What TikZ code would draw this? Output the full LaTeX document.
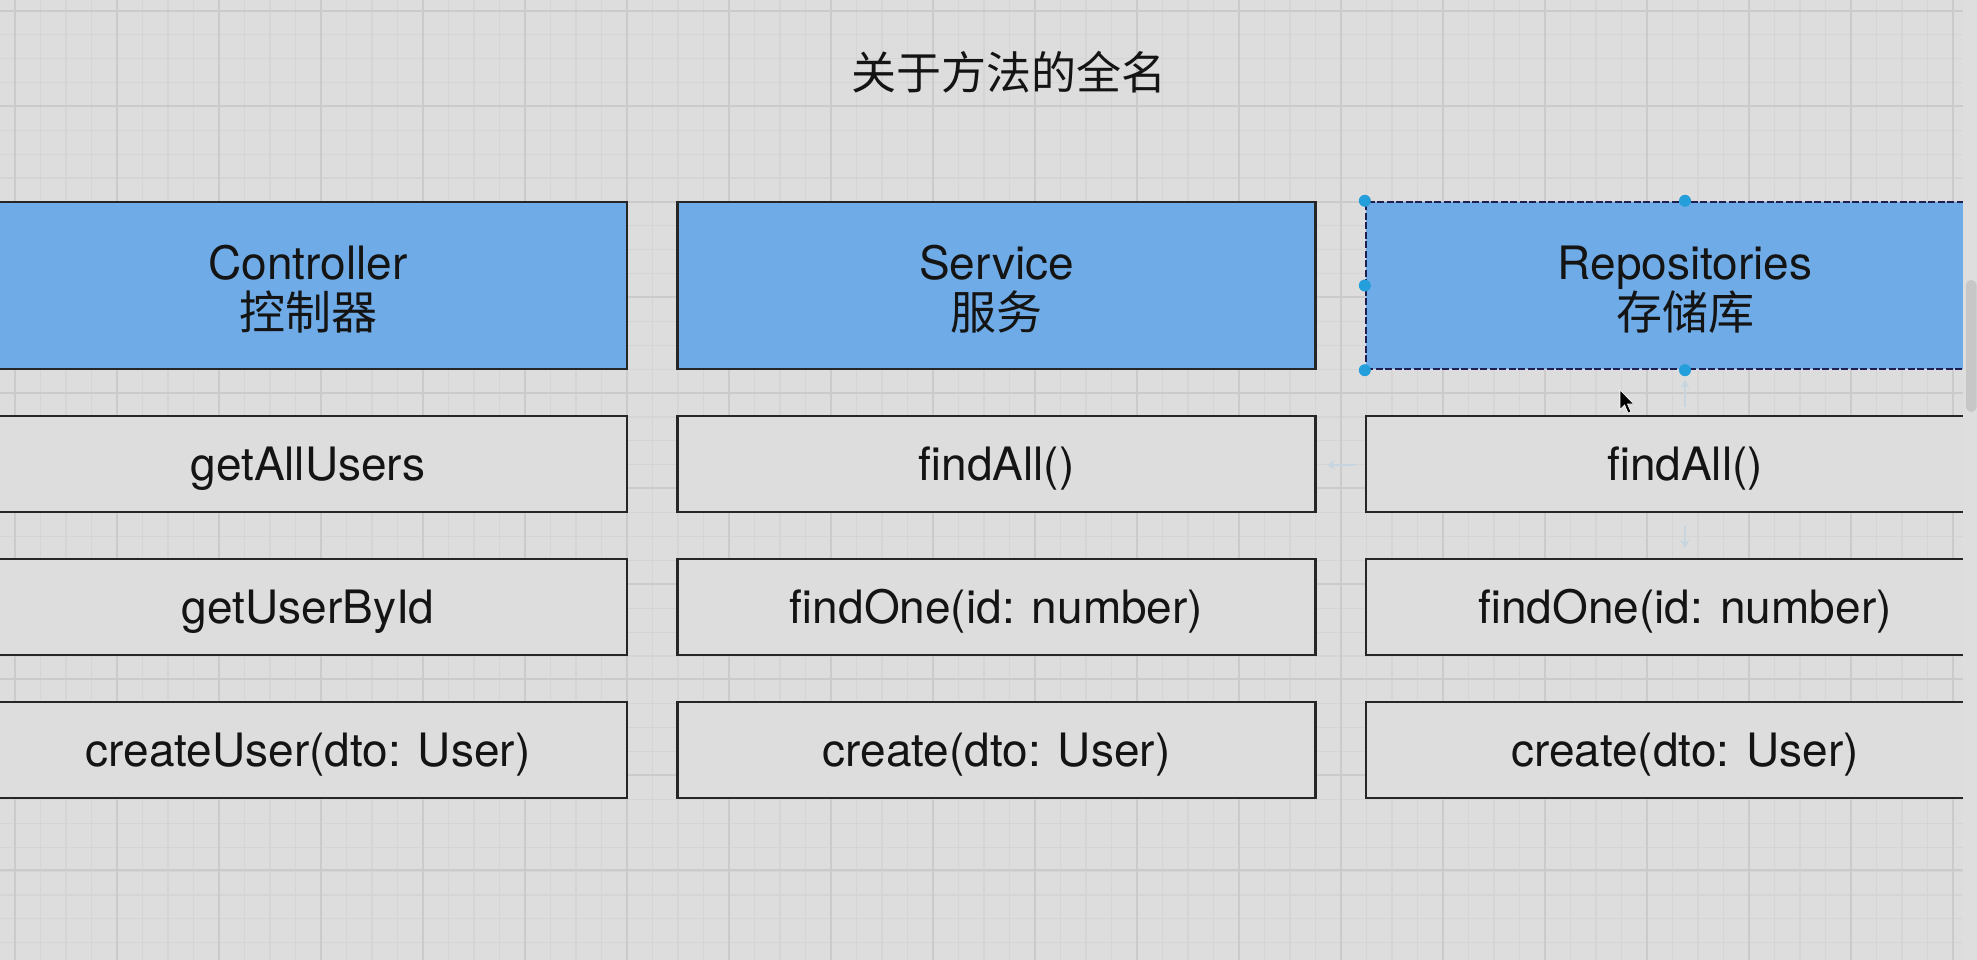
\documentclass[tikz,border=0pt]{standalone}
\usepackage{fontspec}
\setmainfont{TeX Gyre Heros}
\newfontfamily\cjk{Noto Sans CJK SC}
\usetikzlibrary{arrows.meta}
\definecolor{bg}{HTML}{DDDDDD}
\definecolor{gridminor}{HTML}{D5D5D5}
\definecolor{gridmajor}{HTML}{CBCBCB}
\definecolor{hdrblue}{HTML}{6FABE6}
\definecolor{edge}{HTML}{262626}
\definecolor{handle}{HTML}{249FDB}
\definecolor{hint}{HTML}{C6D5DF}
\tikzset{
  box/.style={rectangle, draw=edge, line width=2.7pt, minimum width=638pt,
    inner sep=0pt, text=black!92, font=\fontsize{46}{50}\selectfont},
  hdrbox/.style={box, fill=hdrblue, minimum height=167pt},
  hdrtext/.style={inner sep=0pt, align=center, text=black!92, font=\fontsize{46}{50}\selectfont},
  rowbox/.style={box, fill=bg, minimum height=96pt, text height=33pt, text depth=0pt},
  selbox/.style={rectangle, draw=edge!80!blue, line width=2.4pt, dash pattern=on 7pt off 2.5pt,
    minimum width=638pt, minimum height=167pt, inner sep=0pt},
  grab/.style={circle, fill=handle, minimum size=12pt, inner sep=0pt},
  hintarrow/.style={draw=hint, line width=2.2pt, -{Stealth[length=8pt,width=9pt]}}
}
\begin{document}
\begin{tikzpicture}[x=1pt,y=-1pt]
\fill[bg] (0,0) rectangle (1977,960);
\useasboundingbox (0,0) rectangle (1977,960);
\begin{scope}
\clip (0,0) rectangle (1963,960);
% grid
\foreach \i in {0,...,78} \draw[gridminor, line width=1.1pt] ({15+25.5*\i},0) -- ({15+25.5*\i},960);
\foreach \j in {0,...,40} \draw[gridminor, line width=1.1pt] (0,{10.7+23.9*\j}) -- (1977,{10.7+23.9*\j});
\foreach \i in {0,...,19} \draw[gridmajor, line width=2pt] ({15+102*\i},0) -- ({15+102*\i},960);
\foreach \j in {0,...,10} \draw[gridmajor, line width=2pt] (0,{10.7+95.5*\j}) -- (1977,{10.7+95.5*\j});

% title
\node[font=\cjk\fontsize{45}{50}\selectfont, text=black!92] (title) at (1009,72) {关于方法的全名};

% headers
\node[hdrbox] (ctl) at (308,285.5) {};
\node[hdrbox] (svc) at (996.5,285.5) {};
\node[hdrbox, draw=none] (rep) at (1685,285.5) {};
\node[selbox] (repsel) at (rep) {};
\node[hdrtext] (ctlt) at ([yshift=-4pt]ctl.center) {Controller\\{\cjk 控制器}};
\node[hdrtext] (svct) at ([yshift=-4pt]svc.center) {Service\\{\cjk 服务}};
\node[hdrtext] (rept) at ([yshift=-4pt]rep.center) {Repositories\\{\cjk 存储库}};

% rows
\node[rowbox] (c1) at (308,464) {getAllUsers};
\node[rowbox] (c2) at (308,607) {getUserById};
\node[rowbox] (c3) at (308,750) {createUser(dto: User)};
\node[rowbox] (s1) at (996.5,464) {findAll()};
\node[rowbox] (s2) at (996.5,607) {findOne(id: number)};
\node[rowbox] (s3) at (996.5,750) {create(dto: User)};
\node[rowbox] (r1) at (1685,464) {findAll()};
\node[rowbox] (r2) at (1685,607) {findOne(id: number)};
\node[rowbox] (r3) at (1685,750) {create(dto: User)};

% faint connection hints
\coordinate (upA) at (1685,407);
\coordinate (upB) at (1685,380);
\coordinate (lfA) at (1355,465);
\coordinate (lfB) at (1327,465);
\coordinate (dnA) at (1685,526);
\coordinate (dnB) at (1685,548);
\draw[hintarrow] (upA) -- (upB);
\draw[hintarrow] (lfA) -- (lfB);
\draw[hintarrow] (dnA) -- (dnB);

% selection handles
\node[grab] (h1) at (repsel.north west) {};
\node[grab] (h2) at (repsel.north) {};
\node[grab] (h3) at (repsel.west) {};
\node[grab] (h4) at (repsel.south west) {};
\node[grab] (h5) at (repsel.south) {};

% mouse cursor
\fill[black, draw=white, line width=0.6pt, shift={(1620,390)}, scale=1.15]
  (0,0) -- (0,17) -- (4,13) -- (7,20) -- (9.5,19) -- (6.5,12.2) -- (12,12.2) -- cycle;
\end{scope}

% scrollbar
\fill[black!13] (1963,0) rectangle (1977,960);
\fill[black!22, rounded corners=5pt] (1966,280) rectangle (1976.5,412);
\end{tikzpicture}
\end{document}
